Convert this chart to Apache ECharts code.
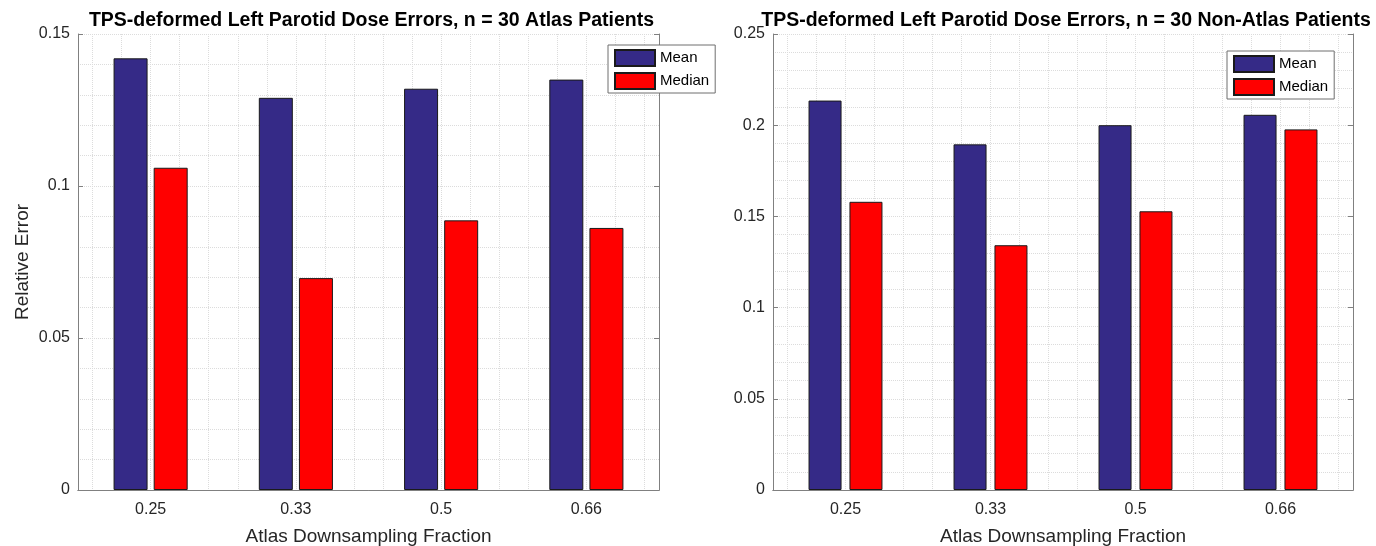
<!DOCTYPE html>
<html>
<head>
<meta charset="utf-8">
<script src="https://cdn.jsdelivr.net/npm/echarts@6/dist/echarts.min.js"></script>
<style>
html,body{margin:0;padding:0;background:#fff;}
#chart{width:1376px;height:546px;}
</style>
</head>
<body>
<div id="chart"></div>
<script>
// ---- data ----
const categories = ['0.25', '0.33', '0.5', '0.66'];
const seriesNames = ['Mean', 'Median'];
const atlasMean = [0.142, 0.129, 0.132, 0.135];
const atlasMedian = [0.106, 0.0697, 0.0887, 0.0862];
const nonAtlasMean = [0.2135, 0.1895, 0.2, 0.2057];
const nonAtlasMedian = [0.158, 0.1342, 0.1528, 0.1977];
const titles = [
  'TPS-deformed Left Parotid Dose Errors, n = 30 Atlas Patients',
  'TPS-deformed Left Parotid Dose Errors, n = 30 Non-Atlas Patients'
];
const xName = 'Atlas Downsampling Fraction';
const yName = 'Relative Error';
const yMax = [0.15, 0.25];
const yStep = 0.05;

// ---- styles ----
const FONT = 'Liberation Sans, Arial, Helvetica, sans-serif';
const AX = '#808080';
const TXT = '#262626';
const GRIDC = '#dcdcdc';
const MEAN_C = '#352a87';
const MED_C = '#ff0000';

// minor grid positions (every 0.2 category units, between 0.5 and 4.5)
const gridCats = [];
for (let k = 0; k <= 40; k++) gridCats.push(String(k));

const grids = [
  {left: 78, top: 34, width: 581, height: 456, outerBoundsMode: 'none'},
  {left: 773, top: 34, width: 580, height: 456, outerBoundsMode: 'none'}
];

const xAxis = [], yAxis = [], series = [];
grids.forEach((g, gi) => {
  xAxis.push({
    type: 'category', gridIndex: gi, position: 'bottom', data: categories,
    axisLine: {lineStyle: {color: AX, width: 1}},
    axisTick: {inside: true, alignWithLabel: true, length: 5, lineStyle: {color: AX}},
    axisLabel: {color: TXT, fontSize: 16, fontFamily: FONT, margin: 12},
    splitLine: {show: false},
    name: xName, nameLocation: 'middle', nameGap: 37,
    nameTextStyle: {color: TXT, fontSize: 19, fontFamily: FONT}
  });
  xAxis.push({
    type: 'category', gridIndex: gi, position: 'top', data: categories,
    axisLine: {lineStyle: {color: AX, width: 1}},
    axisTick: {inside: true, alignWithLabel: true, length: 5, lineStyle: {color: AX}},
    axisLabel: {show: false}, splitLine: {show: false}
  });
  xAxis.push({
    type: 'category', gridIndex: gi, position: 'bottom', data: gridCats, boundaryGap: false,
    axisLine: {show: false}, axisTick: {show: false}, axisLabel: {show: false},
    splitLine: {show: true, interval: (i) => i % 2 === 1,
      lineStyle: {color: GRIDC, type: 'dotted', width: 1}}
  });
  yAxis.push({
    type: 'value', gridIndex: gi, position: 'left', min: 0, max: yMax[gi], interval: yStep,
    axisLine: {show: true, lineStyle: {color: AX, width: 1}},
    axisTick: {show: true, inside: true, length: 5, lineStyle: {color: AX}},
    axisLabel: {color: TXT, fontSize: 16, fontFamily: FONT, margin: 8},
    splitLine: {show: true, lineStyle: {color: GRIDC, type: 'dotted', width: 1}},
    minorTick: {show: false, splitNumber: 5},
    minorSplitLine: {show: true, lineStyle: {color: GRIDC, type: 'dotted', width: 1}},
    name: gi === 0 ? yName : '', nameLocation: 'middle', nameGap: 46,
    nameTextStyle: {color: TXT, fontSize: 19, fontFamily: FONT}
  });
  yAxis.push({
    type: 'value', gridIndex: gi, position: 'right', min: 0, max: yMax[gi], interval: yStep,
    axisLine: {show: true, lineStyle: {color: AX, width: 1}},
    axisTick: {show: true, inside: true, length: 5, lineStyle: {color: AX}},
    axisLabel: {show: false}, splitLine: {show: false}
  });
});

const sets = [[atlasMean, atlasMedian], [nonAtlasMean, nonAtlasMedian]];
const barW = [34, 33];
const barGap = ['18%', '24%'];
sets.forEach((pair, gi) => {
  pair.forEach((vals, si) => {
    series.push({
      type: 'bar', name: seriesNames[si], data: vals,
      xAxisIndex: gi * 3, yAxisIndex: gi * 2,
      barWidth: barW[gi], barGap: barGap[gi],
      itemStyle: {color: si === 0 ? MEAN_C : MED_C, borderColor: '#1a1a1a', borderWidth: 1},
      emphasis: {disabled: true}, animation: false
    });
  });
});

const legendBase = {
  orient: 'vertical', itemWidth: 40, itemHeight: 16, itemGap: 5, icon: 'rect',
  padding: [4, 6, 3, 6], borderColor: '#6e6e6e', borderWidth: 1, backgroundColor: '#fff',
  textStyle: {color: '#000', fontSize: 15, fontFamily: FONT},
  data: seriesNames, selectedMode: false
};

const option = {
  animation: false,
  backgroundColor: '#fff',
  title: titles.map((t, i) => ({
    text: t, left: grids[i].left + grids[i].width / 2 - 2, top: 6, textAlign: 'center',
    textStyle: {color: '#000', fontSize: 19.5, fontWeight: 'bold', fontFamily: FONT}
  })),
  legend: [
    Object.assign({}, legendBase, {left: 608, top: 45}),
    Object.assign({}, legendBase, {left: 1227, top: 51})
  ],
  grid: grids,
  xAxis: xAxis,
  yAxis: yAxis,
  series: series
};

const chart = echarts.init(document.getElementById('chart'), null, {renderer: 'canvas'});
chart.setOption(option);
</script>
</body>
</html>
